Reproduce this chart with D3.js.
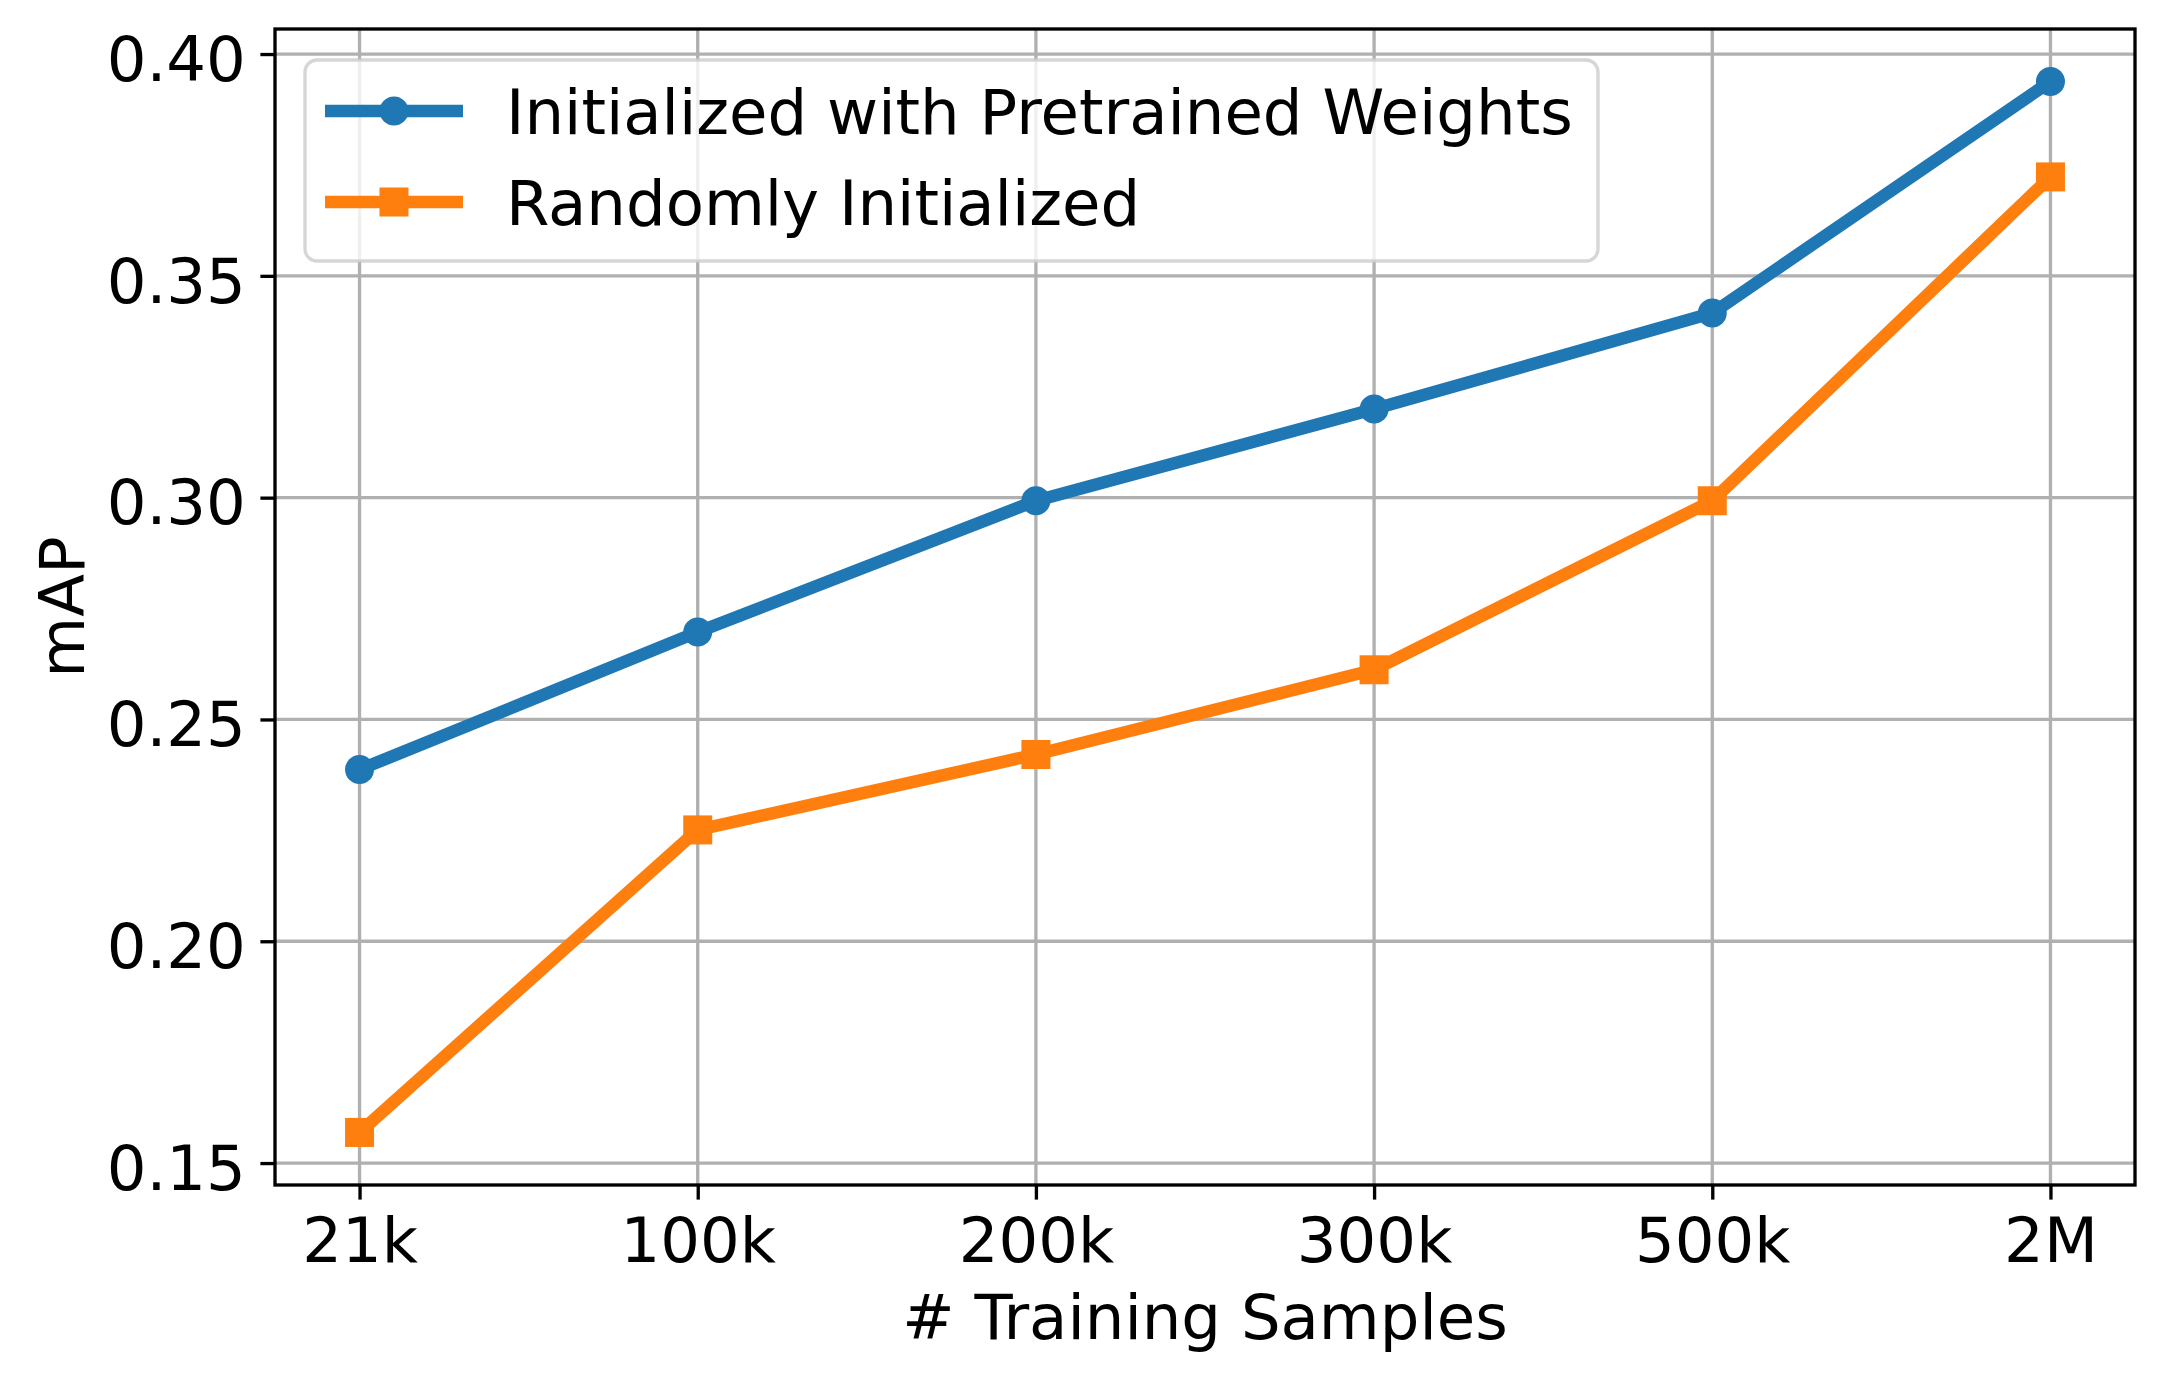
<!DOCTYPE html>
<html>
<head>
<meta charset="utf-8">
<script src="https://cdn.jsdelivr.net/npm/d3@7"></script>
<style>
  body { margin: 0; background: #fff; }
  text { font-family: "DejaVu Sans", sans-serif; fill: #000; }
</style>
</head>
<body>
<script>
// chart data
var sampleLabels = ["21k", "100k", "200k", "300k", "500k", "2M"];
var pretrainedMAP = [0.2387, 0.2697, 0.2993, 0.3200, 0.3416, 0.3938];
var randomMAP = [0.1569, 0.2251, 0.2421, 0.2612, 0.2993, 0.3723];
var yTicks = [0.15, 0.20, 0.25, 0.30, 0.35, 0.40];
var seriesNames = ["Initialized with Pretrained Weights", "Randomly Initialized"];

var svgWidth = 2165;
var svgHeight = 1380;

// plot box in pixels
var plot = { left: 275, right: 2135, top: 29, bottom: 1185 };

var fontSize = 62.5;
var lineW = 12.5;
var markerSize = 29;
var thin = 3.33;
var tickLen = 14.6;

var series = [
  { name: seriesNames[0], values: pretrainedMAP, color: "#1f77b4", marker: "circle" },
  { name: seriesNames[1], values: randomMAP, color: "#ff7f0e", marker: "square" }
];

var svg = d3.select("body")
  .append("svg")
  .attr("width", svgWidth)
  .attr("height", svgHeight);

// x is positional index with matplotlib style 5% margins
var n = sampleLabels.length;
var xPad = (n - 1) * 0.05;
var xScale = d3.scaleLinear()
  .domain([-xPad, n - 1 + xPad])
  .range([plot.left, plot.right]);

var allVals = pretrainedMAP.concat(randomMAP);
var yMin = d3.min(allVals), yMax = d3.max(allVals);
var yPad = (yMax - yMin) * 0.05;
var yScale = d3.scaleLinear()
  .domain([yMin - yPad, yMax + yPad])
  .range([plot.bottom, plot.top]);

// grid
var grid = svg.append("g").attr("stroke", "#b0b0b0").attr("stroke-width", thin);
grid.selectAll("line.gx")
  .data(sampleLabels)
  .enter().append("line")
  .attr("x1", (d, i) => xScale(i)).attr("x2", (d, i) => xScale(i))
  .attr("y1", plot.top).attr("y2", plot.bottom);
grid.selectAll("line.gy")
  .data(yTicks)
  .enter().append("line")
  .attr("x1", plot.left).attr("x2", plot.right)
  .attr("y1", d => yScale(d)).attr("y2", d => yScale(d));

// axes
var bottomAxis = d3.axisBottom(xScale)
  .tickValues(d3.range(n))
  .tickFormat(i => sampleLabels[i])
  .tickSize(tickLen)
  .tickPadding(tickLen)
  .tickSizeOuter(0);

var leftAxis = d3.axisLeft(yScale)
  .tickValues(yTicks)
  .tickFormat(d3.format(".2f"))
  .tickSize(tickLen)
  .tickPadding(tickLen)
  .tickSizeOuter(0);

var xAxis = svg.append("g")
  .attr("transform", `translate(0, ${plot.bottom})`)
  .call(bottomAxis);

var yAxis = svg.append("g")
  .attr("transform", `translate(${plot.left}, 0)`)
  .call(leftAxis);

[xAxis, yAxis].forEach(function(ax) {
  ax.select(".domain").remove();
  ax.selectAll(".tick line").attr("stroke", "#000").attr("stroke-width", thin);
  ax.selectAll(".tick text")
    .attr("font-size", fontSize)
    .attr("font-family", "DejaVu Sans")
    .attr("fill", "#000");
});
xAxis.selectAll(".tick text").attr("dy", null).attr("y", 77);
yAxis.selectAll(".tick text").attr("dy", "0.42em");

// spines
svg.append("rect")
  .attr("x", plot.left).attr("y", plot.top)
  .attr("width", plot.right - plot.left)
  .attr("height", plot.bottom - plot.top)
  .attr("fill", "none")
  .attr("stroke", "#000")
  .attr("stroke-width", thin);

// lines + markers
var line = d3.line()
  .x((d, i) => xScale(i))
  .y(d => yScale(d));

function drawMarker(g, type, color) {
  if (type === "circle") {
    g.append("circle").attr("r", markerSize / 2).attr("fill", color);
  } else {
    g.append("rect")
      .attr("x", -markerSize / 2).attr("y", -markerSize / 2)
      .attr("width", markerSize).attr("height", markerSize)
      .attr("fill", color);
  }
}

series.forEach(function(s) {
  svg.append("path")
    .datum(s.values)
    .attr("d", line)
    .attr("fill", "none")
    .attr("stroke", s.color)
    .attr("stroke-width", lineW)
    .attr("stroke-linejoin", "round");

  svg.selectAll(null)
    .data(s.values)
    .enter().append("g")
    .attr("transform", (d, i) => `translate(${xScale(i)}, ${yScale(d)})`)
    .each(function() { drawMarker(d3.select(this), s.marker, s.color); });
});

// axis labels
svg.append("text")
  .attr("x", (plot.left + plot.right) / 2)
  .attr("y", 1339)
  .attr("text-anchor", "middle")
  .attr("font-size", fontSize)
  .text("# Training Samples");

svg.append("text")
  .attr("transform", `translate(84, ${(plot.top + plot.bottom) / 2}) rotate(-90)`)
  .attr("text-anchor", "middle")
  .attr("font-size", fontSize)
  .text("mAP");

// legend
var legend = svg.append("g");
legend.append("rect")
  .attr("x", 305).attr("y", 60)
  .attr("width", 1598 - 305).attr("height", 261 - 60)
  .attr("rx", 12).attr("ry", 12)
  .attr("fill", "#fff").attr("fill-opacity", 0.8)
  .attr("stroke", "#cccccc").attr("stroke-opacity", 0.8)
  .attr("stroke-width", thin);

var rowY = [111, 202];
series.forEach(function(s, i) {
  var row = legend.append("g").attr("transform", `translate(0, ${rowY[i]})`);
  row.append("line")
    .attr("x1", 325).attr("x2", 463)
    .attr("stroke", s.color).attr("stroke-width", lineW);
  var m = row.append("g").attr("transform", "translate(394, 0)");
  drawMarker(m, s.marker, s.color);
  row.append("text")
    .attr("x", 506).attr("y", 23)
    .attr("font-size", fontSize)
    .text(s.name);
});
</script>
</body>
</html>
